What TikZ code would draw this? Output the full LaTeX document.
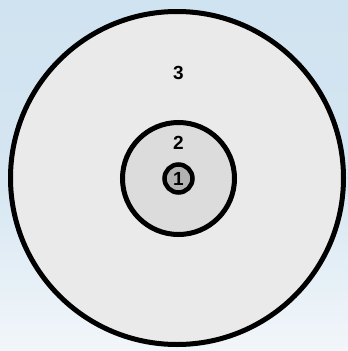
\documentclass[tikz,border=0pt]{standalone}
\usepackage{fontspec}
\setmainfont{Liberation Sans}
\usetikzlibrary{positioning}
\definecolor{skyTop}{RGB}{208,227,240}
\definecolor{skyLow}{RGB}{242,246,250}
\definecolor{ringOuter}{RGB}{234,234,234}
\definecolor{ringMid}{RGB}{220,220,220}
\definecolor{ringCore}{RGB}{178,178,178}
\tikzset{
  ring/.style  = {draw, circle, inner sep=0pt, line width=5pt},
  num/.style   = {font=\fontsize{19pt}{19pt}\selectfont\bfseries, inner sep=0pt}
}
\begin{document}
\begin{tikzpicture}[x=1pt, y=-1pt]
  % sky behind the rings
  \shade[top color=skyTop, bottom color=skyLow, middle color=skyTop!85!skyLow]
    (0,0) rectangle (348,351);
  \useasboundingbox (0,0) rectangle (348,351);

  % rings, outside in
  \node[ring, fill=ringOuter, minimum size=333pt] (R3) at (177,178) {};
  \node[ring, fill=ringMid, minimum size=112pt] (R2) at (178.5,178.5) {};
  \node[ring, fill=ringCore, minimum size=28pt, line width=4.5pt,
        num] (R1) at (178.5,178.5) {1};

  % labels
  \node[num] (L2) at (178.5,143) {2};
  \node[num] (L3) at (178.5,73) {3};
\end{tikzpicture}
\end{document}
